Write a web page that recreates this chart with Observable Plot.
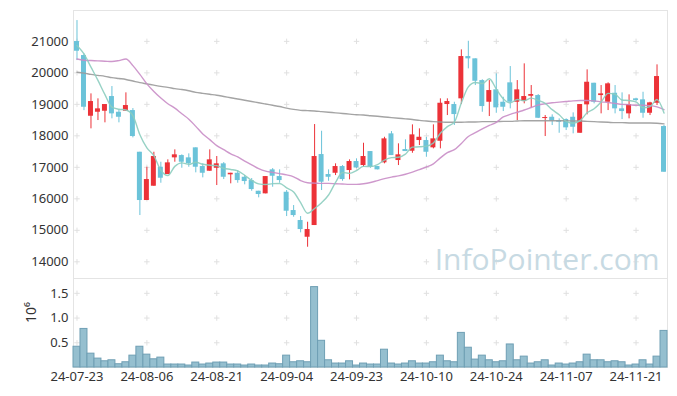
<!DOCTYPE html>
<html>
<head>
<meta charset="utf-8">
<script src="https://cdn.jsdelivr.net/npm/d3@7"></script>
<script src="https://cdn.jsdelivr.net/npm/@observablehq/plot@0.6"></script>
<style>
  html, body { margin: 0; padding: 0; background: #fff; }
  #chart { width: 677px; height: 396px; position: relative; }
  #chart svg { display: block; }
</style>
</head>
<body>
<div id="chart"></div>
<script>
const dates = ["24-07-23","24-07-24","24-07-25","24-07-26","24-07-29","24-07-30","24-07-31","24-08-01","24-08-02","24-08-05",
  "24-08-06","24-08-07","24-08-08","24-08-09","24-08-12","24-08-13","24-08-14","24-08-16","24-08-19","24-08-20",
  "24-08-21","24-08-22","24-08-23","24-08-26","24-08-27","24-08-28","24-08-29","24-08-30","24-09-02","24-09-03",
  "24-09-04","24-09-05","24-09-06","24-09-09","24-09-10","24-09-11","24-09-12","24-09-13","24-09-19","24-09-20",
  "24-09-23","24-09-24","24-09-25","24-09-26","24-09-27","24-09-30","24-10-02","24-10-04","24-10-07","24-10-08",
  "24-10-10","24-10-11","24-10-14","24-10-15","24-10-16","24-10-17","24-10-18","24-10-21","24-10-22","24-10-23",
  "24-10-24","24-10-25","24-10-28","24-10-29","24-10-30","24-10-31","24-11-01","24-11-04","24-11-05","24-11-06",
  "24-11-07","24-11-08","24-11-11","24-11-12","24-11-13","24-11-14","24-11-15","24-11-18","24-11-19","24-11-20",
  "24-11-21","24-11-22","24-11-25","24-11-26","24-11-27"];

const open = [20994,20550,18622,18749,18781,19248,18749,18781,18803,17479,
  15946,16400,17003,16771,17301,17374,17301,17619,17025,16876,
  16971,17111,16762,16812,16685,16580,16241,16158,16920,16707,
  16209,15628,15311,14780,15152,17406,16771,16812,17025,16898,
  17184,17057,17501,17025,17143,18063,17216,17565,17511,17851,
  17851,17619,17828,18994,18994,19175,20518,20445,19755,19067,
  19460,19067,19683,19067,19089,19257,19279,18549,18590,18486,
  18517,18590,18082,18984,19670,19279,19067,19352,18857,18698,
  19175,19143,18717,19035,18295];
const high = [21660,20600,19333,19175,18994,19565,18825,19365,18866,17479,
  17003,17479,17162,17238,17555,17397,17428,17619,17111,17555,
  17343,17150,16812,16898,16739,16644,16241,16707,16960,16920,
  16263,15787,15437,15257,18359,18146,16920,17111,17057,17238,
  17270,17765,17501,17025,17955,18136,17746,17873,18349,18222,
  17950,18349,19175,19175,19067,20730,21003,20445,19780,19755,
  19968,19225,20200,19755,20286,19597,19311,18644,18667,18540,
  18540,18730,18994,20095,19670,19597,19683,19597,19365,19302,
  19194,19384,19067,20254,18327];
const low = [20390,18800,18222,18486,18413,18540,18413,18781,17936,15469,
  15946,16400,16495,16771,17162,16971,17003,16825,16666,16876,
  16422,16612,16476,16495,16444,16241,16031,16158,16368,16495,
  15437,15415,14920,14463,15152,16263,16558,16739,16558,16603,
  16962,17003,16971,16920,17111,17374,17057,17501,17447,17692,
  17320,17587,17587,18644,18330,18994,20127,19597,18749,18613,
  18717,18771,18857,18486,19016,18889,18549,17978,18327,18082,
  18168,18063,18082,18667,19016,18698,18803,18698,18517,18540,
  19090,18559,18644,18962,16844];
const close = [20686,18908,19089,18857,18994,18698,18590,18962,17978,15946,
  16612,17343,16654,17142,17397,17162,17111,17003,16812,17238,
  17111,16685,16812,16580,16549,16295,16136,16707,16717,16580,
  15606,15469,15025,15025,17343,16527,16685,17025,16612,17184,
  16984,17343,17003,16920,17904,17374,17397,17501,18031,17955,
  17479,17904,19035,19089,18676,20518,20445,19733,18930,19438,
  18889,18908,19067,19460,19248,19311,18559,18581,18463,18432,
  18254,18273,18994,19702,19067,19333,19651,18857,18771,18994,
  19121,18717,19048,19883,16844];
const volume = [420000,780000,280000,180000,126000,146000,66000,106000,240000,420000,
  260000,166000,200000,60000,60000,60000,40000,100000,60000,80000,
  100000,100000,60000,60000,40000,60000,40000,40000,80000,66000,
  240000,106000,126000,106000,1626000,540000,146000,80000,80000,126000,
  40000,80000,60000,60000,360000,80000,60000,80000,126000,80000,
  80000,106000,240000,126000,106000,700000,400000,160000,240000,146000,
  106000,126000,466000,146000,220000,80000,106000,146000,40000,80000,
  60000,80000,106000,260000,146000,146000,106000,126000,106000,40000,
  60000,146000,60000,220000,740000];
const ma5 = [20870,20600,20180,19760,19307,18909,18846,18820,18644,18035,
  17618,17368,16907,16739,17030,17140,17093,17163,17097,17065,
  17055,16970,16932,16885,16747,16584,16474,16453,16481,16487,
  16349,16216,15879,15541,15694,15878,16121,16521,16838,16807,
  16898,17030,17025,17087,17231,17309,17320,17419,17641,17652,
  17673,17774,18081,18292,18437,19044,19553,19692,19660,19813,
  19487,19180,19046,19152,19114,19199,19129,19032,18832,18669,
  18458,18401,18483,18731,18858,19074,19349,19322,19136,19121,
  19079,18892,18930,19153,18723];
const ma20 = [20440,20400,20390,20380,20370,20360,20390,20440,20230,19950,
  19650,19410,19200,19020,18880,18700,18530,18300,18060,17880,
  17690,17560,17430,17330,17200,17080,16960,16880,16840,16800,
  16760,16700,16580,16510,16500,16490,16490,16480,16470,16460,
  16460,16480,16520,16580,16640,16690,16730,16780,16850,16930,
  17010,17110,17300,17470,17560,17760,17980,18100,18220,18330,
  18430,18600,18680,18750,18820,18900,18980,19020,19050,19070,
  19090,19110,19120,19120,19110,19080,19060,19030,19000,18990,
  18970,18970,18960,18920,18830];
const ma120 = [20020,19990,19950,19920,19890,19850,19820,19790,19740,19690,
  19650,19610,19570,19540,19500,19470,19430,19380,19350,19320,
  19290,19250,19210,19170,19130,19090,19050,19010,18970,18930,
  18880,18840,18810,18800,18790,18770,18750,18730,18710,18690,
  18670,18660,18640,18620,18600,18580,18560,18540,18520,18490,
  18470,18450,18440,18430,18430,18430,18440,18440,18450,18450,
  18450,18460,18460,18470,18480,18480,18480,18480,18480,18480,
  18480,18470,18470,18460,18450,18440,18430,18420,18420,18410,
  18410,18410,18410,18400,18380];
const priceTicks = [14000,15000,16000,17000,18000,19000,20000,21000];
const volumeTicks = [500000,1000000,1500000];
const dateTicks = dates.filter((d, i) => i % 10 === 0);

const UP = "#ec3238", DOWN = "#6bc3d9";
const rows = dates.map((d, i) => ({
  date: d, open: open[i], high: high[i], low: low[i], close: close[i],
  volume: volume[i], ma5: ma5[i], ma20: ma20[i], ma120: ma120[i],
  color: close[i] >= open[i] ? UP : DOWN
}));
const priceCross = dateTicks.flatMap(d => priceTicks.map(v => ({date: d, v})));
const volCross = dateTicks.flatMap(d => volumeTicks.map(v => ({date: d, v})));

const style = {fontFamily: "'Noto Sans', sans-serif", fontSize: "13px", color: "#333", background: "#fff", overflow: "visible"};

const main = Plot.plot({
  width: 677, height: 278,
  marginTop: 10, marginBottom: 0, marginLeft: 73, marginRight: 10,
  style,
  x: {type: "band", domain: dates, padding: 0, axis: null},
  y: {domain: [13470, 21980], ticks: priceTicks, tickFormat: d => String(d), tickSize: 0, tickPadding: 5, label: null},
  color: {type: "identity"},
  marks: [
    Plot.frame({stroke: "#e4e4e4"}),
    Plot.dot(priceCross, {x: "date", y: "v", symbol: "plus", r: 1.9, stroke: "#e0e0e0", strokeWidth: 1}),
    Plot.text(["InfoPointer.com"], {frameAnchor: "bottom-right", dx: -8, dy: -9, text: d => d,
      fontSize: 30, fill: "#c7dae3", fontFamily: "'Open Sans', sans-serif"}),
    Plot.ruleX(rows, {x: "date", y1: "low", y2: "high", stroke: "color", strokeWidth: 1}),
    Plot.barY(rows, {x: "date", y1: "open", y2: "close", fill: "color", insetLeft: 1, insetRight: 1}),
    Plot.line(rows, {x: "date", y: "ma120", stroke: "#9a9a9a", strokeWidth: 1.4, curve: "monotone-x", strokeOpacity: 0.9}),
    Plot.line(rows, {x: "date", y: "ma20", stroke: "#c98dc6", strokeWidth: 1.4, curve: "monotone-x", strokeOpacity: 0.9}),
    Plot.line(rows, {x: "date", y: "ma5", stroke: "#8ccdbf", strokeWidth: 1.4, curve: "monotone-x", strokeOpacity: 0.9})
  ]
});

const vol = Plot.plot({
  width: 677, height: 118,
  marginTop: 0, marginBottom: 29, marginLeft: 73, marginRight: 10,
  style,
  x: {type: "band", domain: dates, padding: 0, ticks: dateTicks, tickSize: 0, tickPadding: 4, label: null},
  y: {domain: [0, 1800000], ticks: volumeTicks, tickFormat: d => (d / 1e6).toFixed(1), tickSize: 0, tickPadding: 5, label: null},
  marks: [
    Plot.frame({stroke: "#e4e4e4"}),
    Plot.dot(volCross, {x: "date", y: "v", symbol: "plus", r: 1.9, stroke: "#e0e0e0", strokeWidth: 1}),
    Plot.barY(rows, {x: "date", y: "volume", fill: "#95bfcf", stroke: "#6f9fb4", strokeWidth: 1}),
    Plot.text(["10⁶"], {frameAnchor: "left", dx: -42, rotate: -90, text: d => d, fontSize: 14, fill: "#333"})
  ]
});

const chart = document.getElementById("chart");
chart.appendChild(main);
chart.appendChild(vol);
</script>
</body>
</html>
